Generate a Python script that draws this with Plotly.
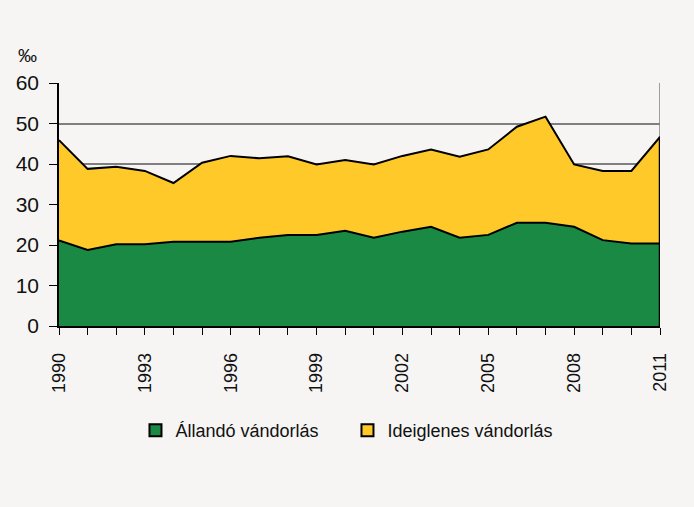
import plotly.graph_objects as go

years = list(range(1990, 2012))
allando = [21.1, 18.8, 20.2, 20.2, 20.8, 20.8, 20.8, 21.8, 22.5, 22.5, 23.5,
           21.8, 23.3, 24.5, 21.8, 22.5, 25.5, 25.5, 24.5, 21.2, 20.4, 20.4]
osszes = [45.9, 38.8, 39.3, 38.3, 35.3, 40.3, 42.0, 41.4, 41.9, 39.9, 41.0,
          39.9, 42.0, 43.6, 41.8, 43.6, 49.2, 51.7, 39.9, 38.3, 38.3, 46.7]
ideiglenes = [round(t - a, 2) for t, a in zip(osszes, allando)]
tick_labels = [str(y) if (y - 1990) % 3 == 0 else "" for y in years]
series_names = ["Állandó vándorlás", "Ideiglenes vándorlás"]

GREEN = "#1a8943"
YELLOW = "#ffc929"
BG = "#f6f5f3"
FONT = "Liberation Sans, Arial, sans-serif"

fig = go.Figure()
fig.add_trace(go.Scatter(x=years, y=allando, stackgroup="one", mode="lines",
                         line=dict(color="black", width=2), fillcolor=GREEN,
                         showlegend=False, hoverinfo="skip"))
fig.add_trace(go.Scatter(x=years, y=ideiglenes, stackgroup="one", mode="lines",
                         line=dict(color="black", width=2), fillcolor=YELLOW,
                         showlegend=False, hoverinfo="skip"))
# right edge outline of the area
fig.add_trace(go.Scatter(x=[years[-1], years[-1]], y=[0, osszes[-1]], mode="lines",
                         line=dict(color="black", width=2.5), showlegend=False,
                         hoverinfo="skip"))
# legend entries
for name, col in zip(series_names, [GREEN, YELLOW]):
    fig.add_trace(go.Scatter(x=[None], y=[None], mode="markers", name=name,
                             marker=dict(symbol="square", size=15, color=col,
                                         line=dict(color="black", width=1.5))))

fig.add_shape(type="line", xref="x", yref="y", x0=years[-1], x1=years[-1], y0=0, y1=60,
              line=dict(color="#808080", width=1.5), layer="below")

fig.add_annotation(text="‰", xref="paper", yref="paper", x=-0.052, y=1.062,
                   xanchor="center", yanchor="bottom", showarrow=False,
                   font=dict(size=19, color="#111111", family=FONT))

fig.update_layout(
    width=694, height=507,
    paper_bgcolor=BG, plot_bgcolor=BG,
    margin=dict(l=59, r=34, t=83, b=181),
    font=dict(family=FONT, color="#111111"),
    showlegend=True,
    legend=dict(orientation="h", x=0.48, xanchor="center", y=-0.43, yanchor="middle",
                font=dict(size=18, family=FONT, color="#111111"),
                bgcolor="rgba(0,0,0,0)", itemsizing="constant", traceorder="normal",
                entrywidth=167, entrywidthmode="pixels"),
    xaxis=dict(range=[years[0], years[-1]], tickmode="array", tickvals=years,
               ticktext=tick_labels, tickangle=-90, ticks="outside", ticklen=7,
               tickcolor="black", showline=True, linecolor="black", linewidth=1.5,
               showgrid=False, zeroline=False, tickfont=dict(size=18, family=FONT),
               ticklabelstandoff=11),
    yaxis=dict(range=[0, 60], tickvals=[0, 10, 20, 30, 40, 50, 60], ticks="outside",
               ticklen=8, tickcolor="black", showline=True, linecolor="black",
               linewidth=1.5, showgrid=True, gridcolor="#7f7f7f", gridwidth=1.5,
               zeroline=False, tickfont=dict(size=21, family=FONT),
               ticklabelstandoff=6),
)

fig.write_html("out.html",
               config={"displayModeBar": False},
               post_script="document.body.style.margin='0';"
                           "document.body.style.background='#f6f5f3';"
                           "document.body.style.overflow='hidden';")
